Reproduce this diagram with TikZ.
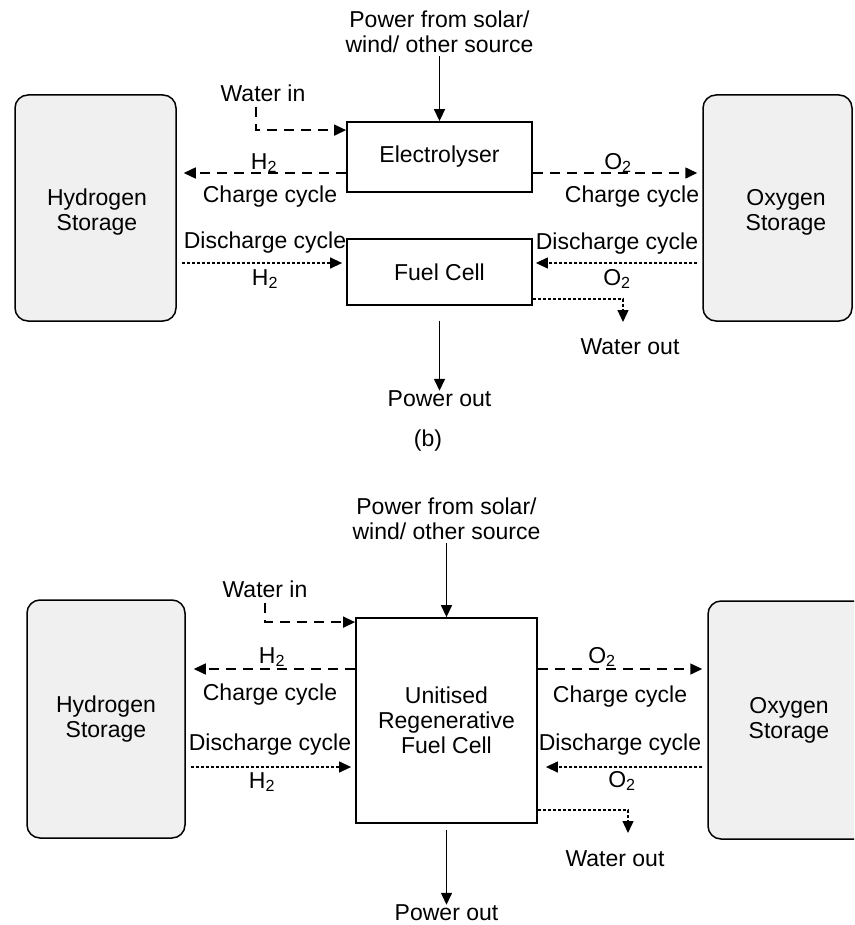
\documentclass[tikz,border=0pt]{standalone}
\usepackage{fontspec}
\setmainfont{Liberation Sans}
\usetikzlibrary{arrows.meta,calc}
\begin{document}
\begin{tikzpicture}[x=1pt,y=-1pt,
  every node/.style={font=\fontsize{23}{25}\selectfont, inner sep=0pt, align=center},
  store/.style={draw, line width=1.5pt, fill=black!6, rounded corners=13pt},
  unit/.style={draw, line width=1.8pt, fill=white},
  flow/.style={-{Triangle[length=12pt,width=11pt]}, line width=1.5pt},
  chargeline/.style={flow, dash pattern=on 10pt off 7pt},
  dischargeline/.style={flow, line width=1.3pt, dash pattern=on 3pt off 2pt},
]
\clip (0,0) rectangle (854,925);
\fill[white] (0,0) rectangle (854,925);

% ---------------- top diagram ----------------
\node[store, minimum width=161pt, minimum height=226pt] (hs1) at (95.5,208) {};
\node (hs1t) at (97,212) {Hydrogen\\Storage};
\node[store, minimum width=149pt, minimum height=226pt] (os1) at (777.5,208) {};
\node (os1t) at (786,212) {Oxygen\\Storage};
\node[unit, minimum width=185pt, minimum height=70pt] (el) at (439.5,157) {Electrolyser};
\node[unit, minimum width=185pt, minimum height=66pt] (fc) at (439.5,272) {Fuel Cell};

\node (pw1) at (439.5,32) {Power from solar/\\wind/ other source};
\draw[flow, shorten <=3pt] (pw1.south) -- (el.north);

\node (win1) at (263,93) {Water in};
\coordinate (w1) at (256,107);
\draw[chargeline] (w1) |- ([yshift=-9pt]el.north west);

\coordinate (e1) at ([yshift=-16pt]el.west);
\draw[chargeline, shorten >=7pt] (e1) -- (e1 -| hs1.east);
\node (h2a) at (264,163) {H\textsubscript{2}};
\node (cc1) at (270,197) {Charge cycle};

\coordinate (e2) at ([yshift=-16pt]el.east);
\draw[chargeline, shorten >=5pt] (e2) -- (e2 -| os1.west);
\node (o2a) at (618,163) {O\textsubscript{2}};
\node (cc2) at (632,197) {Charge cycle};

\coordinate (f1) at ([yshift=9pt]fc.west);
\draw[dischargeline, shorten <=5pt, shorten >=4pt] (f1 -| hs1.east) -- (f1);
\node (dc1) at (265,243) {Discharge cycle};
\node (h2b) at (265,279) {H\textsubscript{2}};

\coordinate (f2) at ([yshift=9pt]fc.east);
\draw[dischargeline, shorten <=5pt, shorten >=3pt] (f2 -| os1.west) -- (f2);
\node (dc2) at (617,244) {Discharge cycle};
\node (o2b) at (617,279) {O\textsubscript{2}};

\coordinate (wo1) at (623,322);
\draw[dischargeline] ([yshift=-27pt]fc.east) -| (wo1);
\node (wot1) at (630,347) {Water out};

\node (po1) at (439.5,399) {Power out};
\draw[flow, shorten <=15pt] (fc.south) -- (po1.north);

\node (lb) at (428,441) {(b)};

% ---------------- bottom diagram ----------------
\node[store, minimum width=158pt, minimum height=238pt] (hs2) at (106,719) {Hydrogen\\Storage};
\node[store, minimum width=162pt, minimum height=238pt] (os2) at (789,720) {Oxygen\\Storage};
\node[unit, minimum width=181pt, minimum height=205pt] (ur) at (446.5,720.5) {Unitised\\Regenerative\\Fuel Cell};

\node (pw2) at (446.5,519) {Power from solar/\\wind/ other source};
\draw[flow, shorten <=3pt] (pw2.south) -- (ur.north);

\node (win2) at (265,589) {Water in};
\coordinate (w2) at (265,603);
\draw[chargeline] (w2) |- ([yshift=-5pt]ur.north west);

\coordinate (u1) at (ur.west |- 0,669);
\draw[chargeline, shorten >=8pt] (u1) -- (u1 -| hs2.east);
\node (h2c) at (272,657) {H\textsubscript{2}};
\node (cc3) at (270,695) {Charge cycle};

\coordinate (u2) at (ur.east |- 0,669);
\draw[chargeline, shorten >=5pt] (u2) -- (u2 -| os2.west);
\node (o2c) at (602,657) {O\textsubscript{2}};
\node (cc4) at (620,697) {Charge cycle};

\coordinate (u3) at (ur.west |- 0,767);
\draw[dischargeline, shorten <=5pt, shorten >=4pt] (u3 -| hs2.east) -- (u3);
\node (dc3) at (270,745) {Discharge cycle};
\node (h2d) at (262,782) {H\textsubscript{2}};

\coordinate (u4) at (ur.east |- 0,767);
\draw[dischargeline, shorten <=5pt, shorten >=8pt] (u4 -| os2.west) -- (u4);
\node (dc4) at (620,745) {Discharge cycle};
\node (o2d) at (622,781) {O\textsubscript{2}};

\coordinate (wo2) at (628,833);
\draw[dischargeline] (ur.east |- 0,810) -| (wo2);
\node (wot2) at (615,859) {Water out};

\node (po2) at (446.5,913) {Power out};
\draw[flow, shorten <=6pt] (ur.south) -- (po2.north);
\end{tikzpicture}
\end{document}
